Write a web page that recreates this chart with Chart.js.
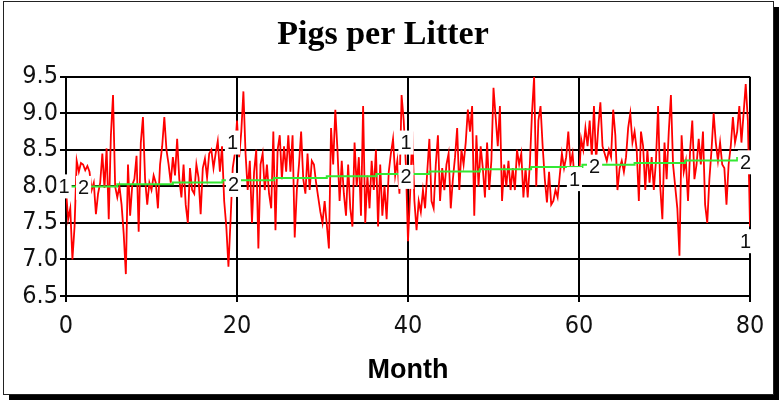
<!DOCTYPE html>
<html>
<head>
<meta charset="utf-8">
<script src="https://cdn.jsdelivr.net/npm/chart.js@4.4.1/dist/chart.umd.min.js"></script>
<style>
  html, body { margin: 0; padding: 0; background: #fff; }
</style>
</head>
<body>
<canvas id="myChart" width="781" height="402"></canvas>
<script>
// litter size, 4 readings per month (one row = one month)
var samplesPerMonth = 4
var litterSize = [
  7.95, 7.55, 7.7, 7.0,
  7.45, 8.35, 8.2, 8.32,
  8.3, 8.22, 8.28, 8.2,
  7.95, 8.05, 7.62, 7.9,
  8.05, 8.45, 7.98, 8.52,
  7.55, 8.7, 9.25, 8.0,
  7.85, 8.0, 7.75, 7.35,
  6.8, 8.3, 7.6, 8.02,
  8.1, 8.42, 7.38, 8.6,
  8.95, 8.1, 7.75, 8.05,
  7.95, 8.15, 8.05, 7.7,     // 10
  8.3, 8.55, 8.95, 8.5,
  8.3, 8.05, 8.4, 8.15,
  8.65, 8.1, 7.85, 8.3,
  7.75, 7.5, 8.25, 7.95,
  7.9, 8.3, 8.12, 7.62,
  8.25, 8.38, 8.12, 8.45,
  8.5, 8.25, 8.45, 8.62,
  8.2, 8.55, 7.8, 7.45,
  6.9, 7.55, 8.25, 8.45,
  8.9, 8.4, 8.75, 9.3,       // 20
  8.45, 7.95, 8.35, 7.5,
  8.2, 8.5, 7.15, 8.3,
  8.45, 7.95, 8.3, 7.9,
  7.7, 8.75, 7.4, 8.5,
  8.7, 8.1, 8.55, 8.2,
  8.7, 8.2, 8.7, 7.3,
  7.95, 8.3, 8.75, 8.1,
  7.9, 8.45, 7.95, 8.35,
  8.3, 8.05, 7.85, 7.65,
  7.5, 7.8, 7.48, 7.15,      // 30
  8.8, 8.3, 9.05, 8.5,
  7.8, 8.35, 7.9, 7.6,
  8.3, 7.7, 7.45, 8.6,
  8.0, 8.4, 7.6, 9.1,
  7.5, 8.15, 7.7, 8.35,
  7.95, 8.5, 7.45, 8.3,
  7.6, 8.0, 7.55, 8.2,
  8.45, 8.65, 8.15, 8.35,
  7.9, 9.25, 8.9, 8.3,
  7.25, 7.9, 8.75, 7.8,      // 40
  7.4, 7.8, 7.65, 7.95,
  7.7, 8.2, 8.65, 7.8,
  7.7, 8.3, 8.7, 7.8,
  8.25, 7.95, 8.3, 8.45,
  7.7, 8.1, 8.4, 8.8,
  7.95, 8.5, 8.3, 8.6,
  9.05, 8.75, 9.1, 7.6,
  8.7, 8.0, 8.55, 8.25,
  7.85, 8.6, 7.95, 8.35,
  9.35, 8.95, 8.55, 9.1,     // 50
  7.8, 8.3, 8.0, 8.35,
  7.95, 8.25, 7.95, 8.5,
  8.3, 8.45, 7.85, 8.25,
  7.85, 8.3, 9.0, 9.5,
  8.0, 8.9, 9.1, 8.55,
  8.1, 7.78, 8.2, 7.75,
  7.8, 7.95, 7.85, 8.15,
  8.45, 8.25, 8.4, 8.75,
  8.3, 8.45, 8.05, 8.2,
  8.1, 8.65, 8.5, 8.8,       // 60
  8.55, 8.9, 8.4, 9.1,
  8.35, 8.8, 9.15, 8.55,
  8.45, 8.35, 8.5, 8.4,
  9.05, 8.7, 7.95, 8.25,
  8.35, 8.2, 8.4, 8.8,
  9.0, 8.6, 8.75, 8.5,
  7.8, 8.75, 8.55, 7.95,
  8.5, 8.05, 8.4, 7.95,
  8.35, 9.1, 8.0, 7.55,
  8.6, 8.1, 8.75, 9.25,      // 70
  8.3, 8.0, 7.7, 7.05,
  8.7, 8.2, 8.35, 7.8,
  8.5, 8.9, 8.1, 8.3,
  8.65, 8.3, 8.75, 7.75,
  7.5, 8.1, 8.5, 9.0,
  8.6, 8.35, 8.6, 8.3,
  8.25, 7.75, 8.3, 8.55,
  8.95, 8.6, 8.75, 9.1,
  8.6, 9.0, 9.4, 8.9,
  7.45                       // 80
]

// stepped trend line (month where each step starts, level)
var trendMonths = [0, 6, 12.5, 18.3, 24.3, 30.5, 36.3, 42.5, 48.4, 54.4, 60.4, 66.5, 72.4, 78.5, 80]
var trendLevels = [8.00, 8.03, 8.055, 8.085, 8.115, 8.14, 8.17, 8.205, 8.235, 8.265, 8.295, 8.32, 8.355, 8.39, 8.39]

// the "1" / "2" series markers every 20 months
var markMonths = [0, 20, 40, 60, 80]
var mark1Values = [8.0, 8.6, 8.6, 8.1, 7.25]
var mark2Values = [7.98, 8.02, 8.13, 8.27, 8.33]

var xTicks = [0, 20, 40, 60, 80]
var yTicks = [6.5, 7.0, 7.5, 8.0, 8.5, 9.0, 9.5]

var sansFont = "'Liberation Sans', Arial, sans-serif"
var narrowFont = "'Liberation Sans Narrow', 'Arial Narrow', 'DejaVu Sans Condensed', sans-serif"

var litterPoints = litterSize.map((v, i) => ({ x: i / samplesPerMonth, y: v }))
var trendPoints = trendMonths.map((m, i) => ({ x: m, y: trendLevels[i] }))

// white page with thin border and a drop shadow
const framePlugin = {
  id: 'frame',
  beforeDraw(chart) {
    const ctx = chart.ctx
    ctx.save()
    ctx.fillStyle = '#fff'
    ctx.fillRect(0, 0, chart.width, chart.height)
    ctx.fillStyle = '#000'
    ctx.fillRect(773, 7, 6, 393)
    ctx.fillRect(9, 394, 770, 6)
    ctx.strokeStyle = '#222'
    ctx.lineWidth = 1
    ctx.strokeRect(3.5, 1.5, 770, 393)
    ctx.restore()
  }
}

// boxed number labels next to the lines
const markPlugin = {
  id: 'marks',
  afterDatasetsDraw(chart) {
    const ctx = chart.ctx
    const x = chart.scales.x, y = chart.scales.y
    const place1 = [['center', -2], ['right', 1], ['center', -2], ['right', 1], ['right', 1]]
    const place2 = [['left', 12], ['right', 2], ['center', -2], ['left', 10], ['right', 1]]
    ctx.save()
    ctx.font = '20px ' + sansFont
    ctx.textBaseline = 'middle'
    ctx.textAlign = 'left'
    function draw(text, px, py, align) {
      let w = ctx.measureText(text).width
      let left = align === 'left' ? px : (align === 'right' ? px - w : px - w / 2)
      ctx.fillStyle = '#fff'
      ctx.fillRect(left - 2, py - 12, w + 4, 24)
      ctx.fillStyle = '#111'
      ctx.fillText(text, left, py + 1)
    }
    for (let i = 0; i < markMonths.length; i++) {
      let px = x.getPixelForValue(markMonths[i])
      draw('1', px + place1[i][1], y.getPixelForValue(mark1Values[i]), place1[i][0])
      draw('2', px + place2[i][1], y.getPixelForValue(mark2Values[i]), place2[i][0])
    }
    ctx.restore()
  }
}

new Chart('myChart', {
  type: 'line',
  data: {
    datasets: [{
      data: litterPoints,
      borderColor: '#ff0000',
      borderWidth: 1.8,
      pointRadius: 0,
      tension: 0,
      order: 2
    }, {
      data: trendPoints,
      borderColor: '#33e833',
      borderWidth: 2,
      pointRadius: 0,
      stepped: true,
      order: 1
    }]
  },
  options: {
    responsive: false,
    animation: false,
    layout: { padding: { left: 16, right: 31, top: 0, bottom: 0 } },
    plugins: {
      legend: { display: false },
      tooltip: { enabled: false },
      title: {
        display: true,
        text: 'Pigs per Litter',
        color: '#000',
        font: { family: "'Liberation Serif', 'Times New Roman', serif", size: 34, weight: 'bold' },
        padding: { top: 15, bottom: 21 }
      }
    },
    scales: {
      x: {
        type: 'linear',
        min: 0,
        max: 80,
        afterBuildTicks: s => { s.ticks = xTicks.map(v => ({ value: v })) },
        afterFit: s => { s.height = 106 },
        ticks: { color: '#111', font: { family: narrowFont, size: 25 }, padding: 9, maxRotation: 0 },
        grid: { color: '#000', lineWidth: 2, tickLength: 6 },
        border: { color: '#000', width: 2 },
        title: {
          display: true,
          text: 'Month',
          color: '#000',
          font: { family: sansFont, size: 27, weight: 'bold' },
          padding: { top: 0, bottom: 15 }
        }
      },
      y: {
        min: 6.5,
        max: 9.5,
        afterBuildTicks: s => { s.ticks = yTicks.map(v => ({ value: v })) },
        afterFit: s => { s.width = 50 },
        ticks: { color: '#111', font: { family: narrowFont, size: 25 }, padding: 2, callback: v => v.toFixed(1) },
        grid: { color: '#000', lineWidth: 2, tickLength: 6 },
        border: { color: '#000', width: 2 }
      }
    }
  },
  plugins: [framePlugin, markPlugin]
})
</script>
</body>
</html>
